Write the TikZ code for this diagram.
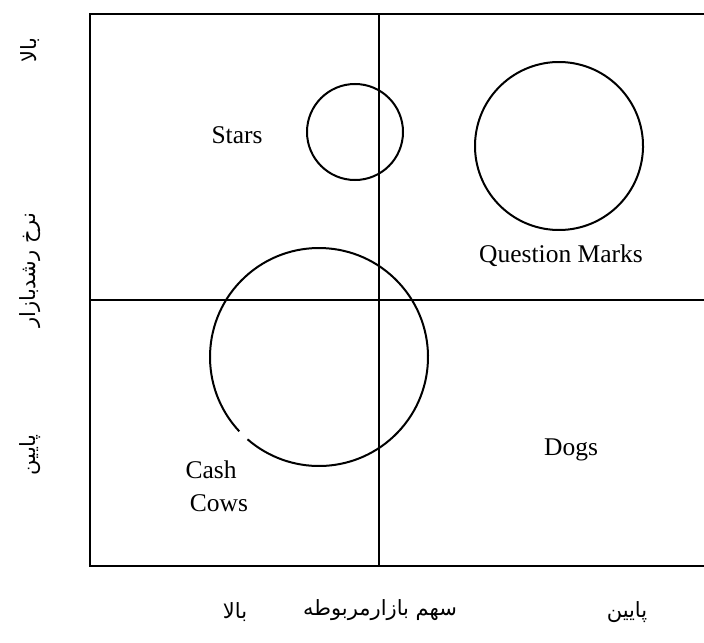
\documentclass[tikz,border=0pt]{standalone}
\usepackage{fontspec}
\setmainfont{Liberation Serif}
\newfontfamily\arabicfont[Script=Arabic]{DejaVu Sans}
\TeXXeTstate=1
\begin{document}
\begin{tikzpicture}[x=0.5pt,y=-0.5pt,
  frame/.style={line width=1pt,draw=black},
  bubble/.style={line width=1pt,draw=black},
  lbl/.style={font=\fontsize{12.75}{15}\selectfont,inner sep=0pt},
  fa/.style={font=\fontsize{10.5}{13}\arabicfont,inner sep=0pt}]
\useasboundingbox (0,0) rectangle (704,642);
% frame
\coordinate (tr) at (704,14);
\coordinate (tl) at (90,14);
\coordinate (bl) at (90,566);
\coordinate (br) at (704,566);
\coordinate (vt) at (379,14);
\coordinate (vb) at (379,566);
\coordinate (hl) at (90,300);
\coordinate (hr) at (704,300);
\draw[frame] (tr) -- (tl) -- (bl) -- (br);
\draw[frame] (vt) -- (vb);
\draw[frame] (hl) -- (hr);
% bubbles
\draw[bubble] (355,132) circle[radius=48];
\draw[bubble] (559,146) ++(97:84) arc[start angle=97,end angle=452,radius=84];
\draw[bubble] (559,146) ++(92:84) arc[start angle=92,end angle=97,radius=84];
\draw[bubble] (319,357) ++(137:109) arc[start angle=137,end angle=491,radius=109];
% labels
\node[lbl] (stars) at (237,135) {Stars};
\node[lbl] (qm) at (561,256) {Question Marks};
\node[lbl] (dogs) at (571,450) {Dogs};
\node[lbl] (cash) at (211,470) {Cash};
\node[lbl] (cows) at (219,503) {Cows};
% axis labels
\node[fa,rotate=90] (yhigh) at (30,50) {\beginR بالا\endR};
\node[fa,rotate=90] (ytitle) at (30,270) {\beginR نرخ رشدبازار\endR};
\node[fa,rotate=90] (ylow) at (30,455) {\beginR پایین\endR};
\node[fa] (xhigh) at (235,612) {\beginR بالا\endR};
\node[fa] (xtitle) at (380,610) {\beginR سهم بازارمربوطه\endR};
\node[fa] (xlow) at (627,612) {\beginR پایین\endR};
\end{tikzpicture}
\end{document}
